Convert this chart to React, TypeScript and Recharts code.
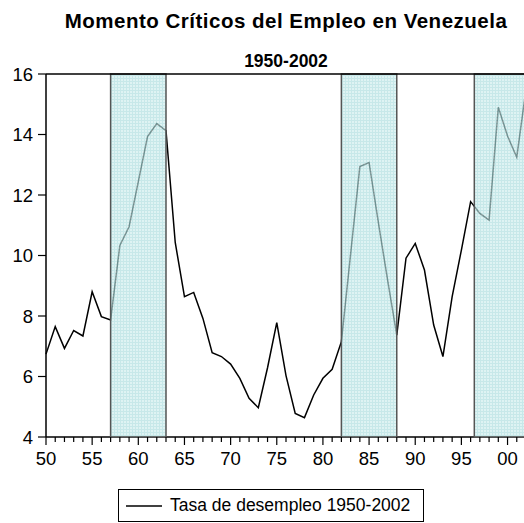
import { LineChart, Line, XAxis, YAxis, ReferenceArea, ReferenceLine, Legend } from "recharts"

const years = [
  1950, 1951, 1952, 1953, 1954, 1955, 1956, 1957, 1958, 1959,
  1960, 1961, 1962, 1963, 1964, 1965, 1966, 1967, 1968, 1969,
  1970, 1971, 1972, 1973, 1974, 1975, 1976, 1977, 1978, 1979,
  1980, 1981, 1982, 1983, 1984, 1985, 1986, 1987, 1988, 1989,
  1990, 1991, 1992, 1993, 1994, 1995, 1996, 1997, 1998, 1999,
  2000, 2001, 2002,
]

const desempleo = [
  6.74, 7.65, 6.93, 7.52, 7.34, 8.8, 7.98, 7.87, 10.33, 10.95,
  12.44, 13.93, 14.36, 14.13, 10.43, 8.64, 8.78, 7.92, 6.79, 6.66,
  6.41, 5.94, 5.28, 4.97, 6.29, 7.78, 6.03, 4.78, 4.64, 5.39,
  5.94, 6.24, 7.15, 10.05, 12.94, 13.07, 11.1, 9.2, 7.37, 9.91,
  10.4, 9.52, 7.7, 6.66, 8.64, 10.18, 11.78, 11.39, 11.17, 14.9,
  13.95, 13.25, 15.5,
]

// periodos criticos (sombreados)
const shadeStart = [1957, 1982, 1996.4]
const shadeEnd = [1963, 1988, 2002]

const majorYears = [1950, 1955, 1960, 1965, 1970, 1975, 1980, 1985, 1990, 1995, 2000]
const majorLabels = ["50", "55", "60", "65", "70", "75", "80", "85", "90", "95", "00"]
const yTicks = [4, 6, 8, 10, 12, 14, 16]

const data = years.map((year, i) => ({ year, value: desempleo[i] }))

const FONT = "'Liberation Sans', Arial, sans-serif"

const XTick = (props: any) => {
  const { x, y, payload } = props
  const idx = majorYears.indexOf(payload.value)
  const major = idx >= 0
  return (
    <g>
      <line x1={x} x2={x} y1={y} y2={y + (major ? 8 : 5)} stroke="#000" strokeWidth={1.2} />
      {major && (
        <text x={x} y={y + 28} textAnchor="middle" fontSize={18.5} fill="#000" fontFamily={FONT}>
          {majorLabels[idx]}
        </text>
      )}
    </g>
  )
}

const LegendBox = () => (
  <div
    style={{
      width: 306,
      height: 33,
      border: "1px solid #000",
      boxSizing: "border-box",
      display: "flex",
      alignItems: "center",
      fontFamily: FONT,
      fontSize: 17.5,
      color: "#000",
      background: "#fff",
    }}
  >
    <svg width={36} height={4} style={{ marginLeft: 7 }}>
      <line x1={0} x2={36} y1={2} y2={2} stroke="#000" strokeWidth={1.5} />
    </svg>
    <span style={{ marginLeft: 8, whiteSpace: "nowrap" }}>Tasa de desempleo 1950-2002</span>
  </div>
)

export default function App() {
  return (
    <div style={{ position: "absolute", left: 0, top: 0, width: 524, height: 523, overflow: "hidden", background: "#fff" }}>
      <LineChart width={530} height={523} data={data} margin={{ top: 74, right: 4, bottom: 56, left: 0 }}>
        <defs>
          <pattern id="grid" width={3} height={3} patternUnits="userSpaceOnUse">
            <rect width={3} height={3} fill="#cdecec" />
            <path d="M0 0.5 H3 M0.5 0 V3" stroke="#a9dcdd" strokeWidth={1} />
          </pattern>
        </defs>
        <XAxis
          dataKey="year"
          type="number"
          domain={[1950, 2002]}
          ticks={years}
          interval={0}
          tickSize={0}
          tickMargin={0}
          tick={<XTick />}
          height={30}
          axisLine={{ stroke: "#000", strokeWidth: 1.5 }}
          tickLine={false}
        />
        <YAxis
          domain={[4, 16]}
          ticks={yTicks}
          width={46}
          tickSize={8}
          tickMargin={5}
          interval={0}
          axisLine={{ stroke: "#000", strokeWidth: 1.5 }}
          tickLine={{ stroke: "#000", strokeWidth: 1.2 }}
          tick={{ fill: "#000", fontSize: 18.5, fontFamily: FONT }}
        />
        <Line
          dataKey="value"
          stroke="#000"
          strokeWidth={1.5}
          dot={false}
          isAnimationActive={false}
        />
        {shadeStart.map((s, i) => (
          <ReferenceArea
            key={i}
            x1={s}
            x2={shadeEnd[i]}
            y1={4}
            y2={16}
            fill="url(#grid)"
            fillOpacity={0.65}
            stroke="#555"
            strokeWidth={1.5}
            strokeOpacity={1}
            zIndex={500}
          />
        ))}
        <ReferenceLine y={16} stroke="#000" strokeWidth={1.5} zIndex={600} />
        <Legend
          layout="horizontal"
          verticalAlign="middle"
          align="center"
          wrapperStyle={{ left: 118, top: 489, width: 306, height: 33 }}
          content={<LegendBox />}
        />
      </LineChart>
      <svg width={524} height={80} style={{ position: "absolute", left: 0, top: 0, pointerEvents: "none" }}>
        <text x={286} y={28} textAnchor="middle" fontFamily={FONT} fontWeight="bold" fontSize={20.5} letterSpacing={0.5} fill="#000">
          Momento Críticos del Empleo en Venezuela
        </text>
        <text x={286} y={67} textAnchor="middle" fontFamily={FONT} fontWeight="bold" fontSize={17.5} fill="#000">
          1950-2002
        </text>
      </svg>
    </div>
  )
}
